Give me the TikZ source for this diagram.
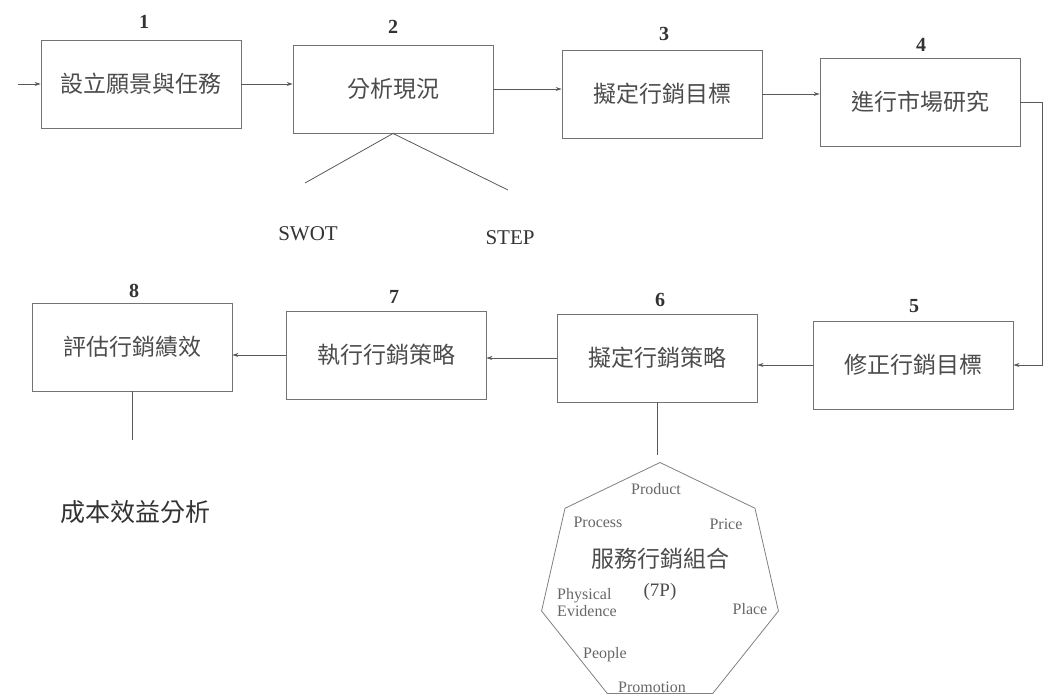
\documentclass[tikz,border=0pt]{standalone}
\usepackage{fontspec}
\setmainfont{Liberation Serif}
\newfontfamily\cjk{Noto Sans CJK TC}
\usetikzlibrary{arrows.meta,shapes.geometric}
\begin{document}
\begin{tikzpicture}[x=1pt,y=-1pt,
  stepbox/.style={draw=black!55,line width=0.9pt,minimum width=200pt,minimum height=88pt,inner sep=0pt,
     font=\cjk\fontsize{23}{26}\selectfont,text=black!70},
  numlbl/.style={font=\bfseries\fontsize{20}{22}\selectfont,text=black!80,inner sep=0pt,anchor=south},
  conn/.style={draw=black!65,line width=0.8pt},
  arr/.style={conn,-{Stealth[length=6pt,width=4pt]}},
  latin/.style={font=\fontsize{21}{23}\selectfont,text=black!80},
  sev/.style={font=\fontsize{16}{17}\selectfont,text=black!60,inner sep=0pt}]
\useasboundingbox (0,0) rectangle (1059,697);

\node[stepbox] (b1) at (141,84) {設立願景與任務};
\node[stepbox] (b2) at (393,89) {分析現況};
\node[stepbox] (b3) at (662,94) {擬定行銷目標};
\node[stepbox] (b4) at (920,102) {進行市場研究};
\node[stepbox] (b5) at (913,365) {修正行銷目標};
\node[stepbox] (b6) at (657,358) {擬定行銷策略};
\node[stepbox] (b7) at (386,355) {執行行銷策略};
\node[stepbox] (b8) at (132,347) {評估行銷績效};

\node[numlbl] (n1) at (144,29) {1};
\node[numlbl] (n2) at (393,34) {2};
\node[numlbl] (n3) at (664,41) {3};
\node[numlbl] (n4) at (921,52) {4};
\node[numlbl] (n5) at (914,313) {5};
\node[numlbl] (n6) at (660,307) {6};
\node[numlbl] (n7) at (394,304) {7};
\node[numlbl] (n8) at (134,298) {8};

\coordinate (start) at (18,84);
\draw[arr] (start) -- (start -| b1.west);
\draw[arr] (b1.east) -- (b1.east -| b2.west);
\draw[arr] (b2.east) -- (b2.east -| b3.west);
\draw[arr] (b3.east) -- (b3.east -| b4.west);
\draw[arr] (b4.east) -- ++(22,0) |- (b5.east);
\draw[arr] (b5.west) -- (b5.west -| b6.east);
\draw[arr] (b6.west) -- (b6.west -| b7.east);
\draw[arr] (b7.west) -- (b7.west -| b8.east);

% SWOT / STEP
\node[latin] (swot) at (308,234) {SWOT};
\node[latin] (step2) at (510,238) {STEP};
\coordinate (sw) at (305,183);
\coordinate (st) at (508,190);
\draw[conn] (sw) -- (b2.south) -- (st);

% cost benefit
\node[font=\cjk\fontsize{25}{28}\selectfont,text=black!80] (cb) at (135,512) {成本效益分析};
\coordinate (cbtop) at (132,440);
\draw[conn] (b8.south) -- (cbtop);

% 7P heptagon
\node[regular polygon,regular polygon sides=7,minimum size=243pt,draw=black!50,line width=0.8pt,inner sep=0pt] (mix) at (660,584) {};
\coordinate (mixtop) at (657,455);
\draw[conn] (b6.south) -- (mixtop);
\node[font=\cjk\fontsize{23}{26}\selectfont,text=black!70] (mixt) at (660,559) {服務行銷組合};
\node[font=\fontsize{19}{21}\selectfont,text=black!70] (sevenp) at (660,592) {(7P)};
\node[sev] (product) at (656,489) {Product};
\node[sev] (process) at (598,522) {Process};
\node[sev] (price) at (726,524) {Price};
\node[sev,align=left] (phys) at (587,603) {Physical\\Evidence};
\node[sev] (place) at (750,609) {Place};
\node[sev] (people) at (605,655) {People};
\node[sev] (promo) at (652,687) {Promotion};
\end{tikzpicture}
\end{document}
